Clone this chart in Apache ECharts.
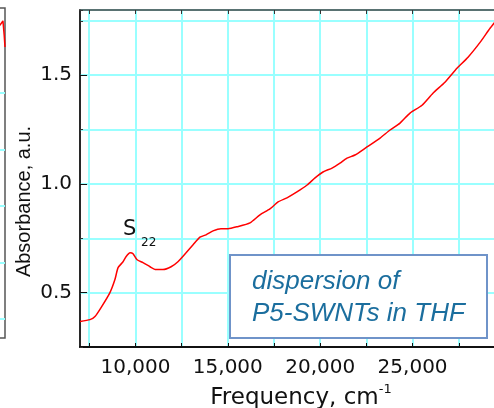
<!DOCTYPE html>
<html>
<head>
<meta charset="utf-8">
<script src="https://cdn.jsdelivr.net/npm/echarts@6/dist/echarts.min.js"></script>
<style>
  html, body { margin: 0; padding: 0; background: #fff; }
  #chart { width: 494px; height: 408px; }
</style>
</head>
<body>
<div id="chart"></div>
<script>
// absorbance spectrum
const freq = [7000, 7540, 7810, 8140, 8620, 8890, 9060, 9330, 9490, 9710, 9870, 10090, 10410, 10790,
  11110, 11490, 11930, 12300, 12740, 13120, 13490, 13820, 14200, 14630, 15010, 15500, 16200, 16740,
  17280, 17720, 18200, 18740, 19290, 19720, 20150, 20640, 21070, 21450, 21880, 22530, 23240, 23780,
  24320, 24860, 25510, 26100, 26750, 27400, 28000, 28650, 29190, 29600];
const absorbance = [0.367, 0.376, 0.390, 0.431, 0.500, 0.560, 0.615, 0.642, 0.665, 0.683, 0.679, 0.651,
  0.638, 0.619, 0.606, 0.606, 0.619, 0.642, 0.683, 0.72, 0.755, 0.766, 0.784, 0.794, 0.794, 0.803,
  0.821, 0.858, 0.885, 0.917, 0.936, 0.963, 0.995, 1.028, 1.055, 1.073, 1.096, 1.119, 1.133, 1.170,
  1.211, 1.248, 1.280, 1.326, 1.362, 1.417, 1.468, 1.532, 1.583, 1.651, 1.716, 1.76];

// the neighbouring panel that is cut off at the left edge
const sideX = [95, 97.56, 99, 99.6, 100];
const sideY = [5.115, 5.204, 5.275, 5.027, 4.814];

const xGridTicks = [7500, 10000, 12500, 15000, 17500, 20000, 22500, 25000, 27500];
const xLabelTicks = [10000, 15000, 20000, 25000];
const yLabelTicks = [0.5, 1.0, 1.5];
const sideGridTicks = [0, 1, 2, 3, 4];

const gridCyan = '#99ffff';
const txt = '#111';

const chart = echarts.init(document.getElementById('chart'));

const option = {
  animation: false,
  backgroundColor: '#fff',
  grid: [
    { left: 80, top: 10, right: -11, bottom: 61, show: true, borderColor: '#444', borderWidth: 1.5,
      outerBoundsMode: 'none', containLabel: false },
    { left: -200, width: 205, top: 8, bottom: 70, show: true, borderColor: '#555', borderWidth: 1.5,
      outerBoundsMode: 'none', containLabel: false }
  ],
  xAxis: [
    {
      type: 'value', gridIndex: 0, position: 'bottom', min: 7000, max: 30000,
      axisLine: { show: true, lineStyle: { color: '#111', width: 2 } },
      axisTick: { show: true, inside: true, length: 4, customValues: xGridTicks, lineStyle: { color: '#111' } },
      axisLabel: {
        customValues: xLabelTicks, margin: 11, color: txt,
        fontFamily: 'DejaVu Sans', fontSize: 20,
        formatter: v => v.toLocaleString('en-US')
      },
      splitLine: { show: true, lineStyle: { color: gridCyan, width: 2 } },
      name: '{a|Frequency, cm}{sup|-1}',
      nameLocation: 'middle',
      nameGap: 36,
      nameTextStyle: {
        padding: [0, 0, 0, 17],
        rich: {
          a: { fontFamily: 'DejaVu Sans', fontSize: 23, color: txt, padding: [4, 0, 0, 0], verticalAlign: 'bottom' },
          sup: { fontFamily: 'DejaVu Sans', fontSize: 13, color: txt, verticalAlign: 'top' }
        }
      }
    },
    {
      type: 'value', gridIndex: 0, position: 'top', min: 7000, max: 30000,
      axisLine: { show: true, lineStyle: { color: '#444', width: 1.5 } },
      axisTick: { show: true, inside: true, length: 4, customValues: xGridTicks, lineStyle: { color: '#333' } },
      axisLabel: { show: false },
      splitLine: { show: false }
    },
    {
      type: 'value', gridIndex: 1, min: 0, max: 100, show: false
    }
  ],
  yAxis: [
    {
      type: 'value', gridIndex: 0, position: 'left', min: 0.25, max: 1.8, interval: 0.25,
      axisLine: { show: true, lineStyle: { color: '#111', width: 1.5 } },
      axisTick: { show: true, inside: true, length: 3, lineStyle: { color: '#333' } },
      axisLabel: { show: false },
      splitLine: { show: true, lineStyle: { color: gridCyan, width: 2 } },
      name: 'Absorbance, a.u.',
      nameLocation: 'middle',
      nameGap: 46,
      nameTextStyle: { fontFamily: 'Liberation Sans', fontSize: 20, color: txt, padding: [0, 46, 0, 0] }
    },
    {
      type: 'value', gridIndex: 0, position: 'left', offset: 0, min: 0.25, max: 1.8,
      axisLine: { show: false },
      axisTick: { show: true, inside: true, length: 7, customValues: yLabelTicks, lineStyle: { color: '#111' } },
      axisLabel: {
        customValues: yLabelTicks, margin: 8, color: txt,
        fontFamily: 'DejaVu Sans', fontSize: 20,
        formatter: v => v.toFixed(1)
      },
      splitLine: { show: false }
    },
    {
      type: 'value', gridIndex: 1, min: -0.336, max: 5.504,
      axisLine: { show: false },
      axisTick: { show: false, customValues: sideGridTicks },
      axisLabel: { show: false },
      splitLine: { show: true, lineStyle: { color: gridCyan, width: 2 } }
    }
  ],
  series: [
    {
      type: 'line',
      xAxisIndex: 0, yAxisIndex: 0,
      data: freq.map((f, i) => [f, absorbance[i]]),
      showSymbol: false,
      smooth: 0.2,
      lineStyle: { color: '#ff0000', width: 1.5 },
      z: 3
    },
    {
      type: 'line',
      xAxisIndex: 2, yAxisIndex: 2,
      data: sideX.map((x, i) => [x, sideY[i]]),
      showSymbol: false,
      lineStyle: { color: '#ff0000', width: 1.5 }
    }
  ],
  graphic: [
    { type: 'text', x: 123, y: 230, z: 10,
      style: { text: 'S', fontFamily: 'DejaVu Sans', fontSize: 21, fill: txt, verticalAlign: 'middle' } },
    { type: 'text', x: 141, y: 243, z: 10,
      style: { text: '22', fontFamily: 'DejaVu Sans', fontSize: 12, fill: txt, verticalAlign: 'middle' } },
    { type: 'rect', z: 10,
      shape: { x: 230, y: 255, width: 257, height: 83 },
      style: { fill: '#fff', stroke: '#6f93c9', lineWidth: 2 } },
    { type: 'text', x: 252, y: 282, z: 11,
      style: { text: 'dispersion of', fontFamily: 'Liberation Sans', fontStyle: 'italic', fontSize: 26,
        fill: '#1b6e9e', verticalAlign: 'middle' } },
    { type: 'text', x: 252, y: 314, z: 11,
      style: { text: 'P5-SWNTs in THF', fontFamily: 'Liberation Sans', fontStyle: 'italic', fontSize: 26,
        fill: '#1b6e9e', verticalAlign: 'middle' } }
  ]
};

chart.setOption(option);
</script>
</body>
</html>
